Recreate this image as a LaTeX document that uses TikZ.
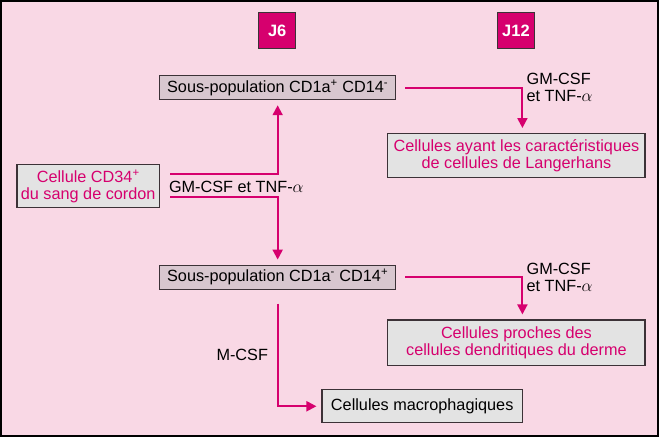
\documentclass[tikz,border=0pt]{standalone}
\usepackage{fontspec}
\setmainfont{Liberation Sans}
\usetikzlibrary{arrows.meta}
\definecolor{fond}{RGB}{249,216,229}
\definecolor{rose}{RGB}{214,0,110}
\definecolor{sousgris}{RGB}{216,199,207}
\definecolor{gris}{RGB}{227,227,227}
\definecolor{bord}{RGB}{60,50,55}
\begin{document}
\begin{tikzpicture}[x=1pt,y=-1pt,
        txt/.style={font=\fontsize{16.3}{16.8}\selectfont,inner sep=0pt},
        box/.style={txt,draw=bord,line width=1.2pt,align=center},
        sous/.style={box,fill=sousgris,minimum width=237pt,minimum height=24pt},
        cell/.style={box,fill=gris,text=rose},
        jour/.style={draw=bord,line width=1pt,fill=rose,text=white,minimum width=37pt,minimum height=36pt,font=\fontsize{16.5}{16}\selectfont\bfseries},
        fleche/.style={rose,line width=2pt,-{Triangle[length=10pt,width=10pt]},shorten >=5pt}]
        \draw[fill=fond,line width=2pt] (0,0) rectangle (659,436);
        \useasboundingbox (0,0) rectangle (659,436);
        % jours
        \node[jour] (j6) at (277,30) {J6};
        \node[jour] (j12) at (516.5,30) {J12};
        % cellules
        \node[sous] (s1) at (277.5,87) {Sous-population CD1a\textsuperscript{+} CD14\textsuperscript{-}};
        \node[sous] (s2) at (277.5,277) {Sous-population CD1a\textsuperscript{-} CD14\textsuperscript{+}};
        \node[cell,minimum width=143pt,minimum height=43pt] (cd34) at (87.5,185.5) {Cellule CD34\textsuperscript{+}\\du sang de cordon};
        \node[cell,minimum width=258pt,minimum height=44pt] (lang) at (517,155) {Cellules ayant les caractéristiques\\de cellules de Langerhans};
        \node[cell,minimum width=258pt,minimum height=46pt] (derm) at (517,343) {Cellules proches des\\cellules dendritiques du derme};
        \node[box,fill=gris,minimum width=201pt,minimum height=33pt] (macro) at (422.5,406.5) {Cellules macrophagiques};
        % facteurs
        \node[txt] (gm0) at (236,186) {GM-CSF et TNF-$\alpha$};
        \node[txt,anchor=west,align=left] (gm1) at (527,87) {GM-CSF\\et TNF-$\alpha$};
        \node[txt,anchor=west,align=left] (gm2) at (527,277) {GM-CSF\\et TNF-$\alpha$};
        \node[txt] (mcsf) at (242,355) {M-CSF};
        % fleches
        \draw[fleche] ([xshift=10pt,yshift=11.5pt]cd34.east) -| (s1.south);
        \draw[fleche] ([xshift=10pt,yshift=-11.5pt]cd34.east) -| (s2.north);
        \draw[fleche] ([xshift=9pt]s1.east) -| ([xshift=6pt]lang.north);
        \draw[fleche] ([xshift=9pt]s2.east) -| ([xshift=6pt]derm.north);
        \draw[fleche] ([yshift=-14pt]s2.south) |- (macro.west);
    \end{tikzpicture}
\end{document}
